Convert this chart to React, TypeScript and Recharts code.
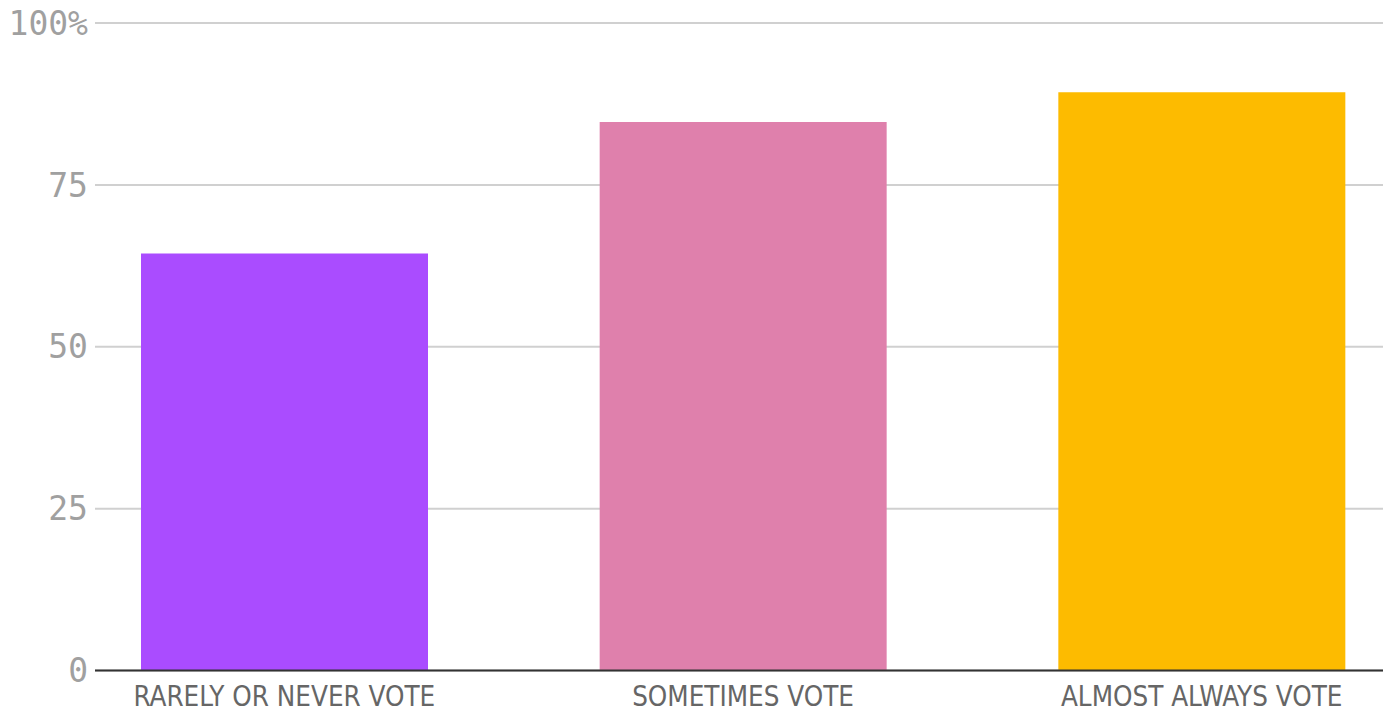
import React from "react";
import { BarChart, Bar, XAxis, YAxis, CartesianGrid, Cell } from "recharts";

const categories = ["RARELY OR NEVER VOTE", "SOMETIMES VOTE", "ALMOST ALWAYS VOTE"];
const values = [64.4, 84.7, 89.3];
const barColors = ["#aa4cff", "#df80ac", "#fdbb00"];
const yTicks = [0, 25, 50, 75, 100];
const yTickLabels = ["0", "25", "50", "75", "100%"];

const data = categories.map((c, i) => ({ name: c, value: values[i] }));

export default function App() {
  return (
    <div style={{ position: "fixed", left: 0, top: 0, background: "#fff" }}>
      <BarChart
        width={1392}
        height={716}
        data={data}
        margin={{ top: 23, right: 9, left: 0, bottom: 0 }}
        barSize={287}
      >
        <CartesianGrid vertical={false} stroke="#d0d0d0" strokeWidth={2} />
        <XAxis
          dataKey="name"
          padding={{ left: -40, right: -48 }}
          height={45.5}
          tickLine={false}
          tickSize={0}
          tickMargin={16}
          axisLine={{ stroke: "#333", strokeWidth: 2 }}
          tick={{ fill: "#666", fontSize: 27.5, fontFamily: "'Liberation Sans Narrow', 'DejaVu Sans Condensed', sans-serif" }}
          interval={0}
        />
        <YAxis
          width={95}
          domain={[0, 100]}
          ticks={yTicks}
          tickFormatter={(v: number) => yTickLabels[yTicks.indexOf(v)]}
          axisLine={false}
          tickLine={false}
          tickSize={0}
          tickMargin={7}
          tick={{ fill: "#a0a0a0", fontSize: 33, fontFamily: "'DejaVu Sans Mono', monospace" }}
        />
        <Bar dataKey="value" isAnimationActive={false}>
          {data.map((d, i) => (
            <Cell key={d.name} fill={barColors[i]} />
          ))}
        </Bar>
      </BarChart>
    </div>
  );
}
